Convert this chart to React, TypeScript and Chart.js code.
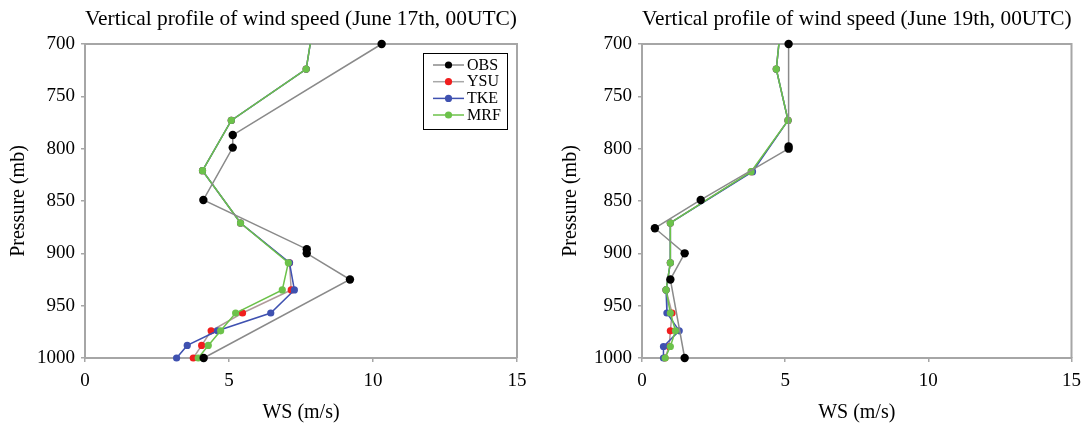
import React, { useEffect, useRef } from "react";
import { Chart, registerables } from "chart.js";

Chart.register(...registerables);

// ---------- data ----------
const title17 = "Vertical profile of wind speed (June 17th, 00UTC)";
const title19 = "Vertical profile of wind speed (June 19th, 00UTC)";
const xTitle = "WS (m/s)";
const yTitle = "Pressure (mb)";
const seriesNames = ["OBS", "YSU", "TKE", "MRF"];

// June 17th
const obs17P = [700, 787, 799, 849, 896, 900, 925, 1000];
const obs17WS = [10.3, 5.13, 5.13, 4.11, 7.7, 7.7, 9.2, 4.12];
const model17P = [700, 724, 773, 821, 871, 909, 935, 957, 974, 988, 1000];
const ysu17WS = [7.82, 7.68, 5.08, 4.08, 5.4, 7.1, 7.16, 5.47, 4.38, 4.05, 3.76];
const tke17WS = [7.82, 7.68, 5.08, 4.08, 5.4, 7.1, 7.27, 6.45, 4.6, 3.55, 3.18];
const mrf17WS = [7.82, 7.68, 5.08, 4.08, 5.4, 7.06, 6.85, 5.23, 4.71, 4.28, 3.93];

// June 19th
const obs19P = [700, 798, 800, 849, 876, 900, 925, 1000];
const obs19WS = [5.12, 5.12, 5.12, 2.05, 0.45, 1.49, 0.99, 1.49];
const model19P = [700, 724, 773, 822, 871, 909, 935, 957, 974, 989, 1000];
const ysu19WS = [4.78, 4.69, 5.1, 3.83, 0.99, 0.99, 0.84, 1.05, 0.99, 0.95, 0.8];
const tke19WS = [4.78, 4.69, 5.1, 3.86, 0.99, 0.99, 0.84, 0.87, 1.3, 0.75, 0.75];
const mrf19WS = [4.78, 4.69, 5.1, 3.81, 0.99, 0.99, 0.84, 0.99, 1.17, 0.99, 0.81];

const xTicks = [0, 5, 10, 15];
const yTicks = [700, 750, 800, 850, 900, 950, 1000];

// ---------- styles ----------
const FONT = "'Liberation Serif', 'Times New Roman', serif";
const AXIS = "#a6a6a6";
const COLORS = {
  OBS: { line: "#8a8a8a", point: "#000000" },
  YSU: { line: "#b09a9a", point: "#f01e1e" },
  TKE: { line: "#3f51b0", point: "#3f51b0" },
  MRF: { line: "#6cc24a", point: "#6cc24a" },
};

function pts(xs: number[], ys: number[]) {
  return xs.map((x, i) => ({ x, y: ys[i] }));
}

function ds(name: string, xs: number[], ys: number[], isModel: boolean) {
  const c = (COLORS as any)[name];
  const r = isModel ? 3.6 : 4.2;
  return {
    label: name,
    data: pts(xs, ys),
    showLine: true,
    borderColor: c.line,
    borderWidth: 1.5,
    pointRadius: xs.map((_, i) => (isModel && i === 0 ? 0 : r)),
    pointBackgroundColor: c.point,
    pointBorderColor: c.point,
    pointBorderWidth: 0,
    clip: false,
  };
}

const framePlugin = {
  id: "frame",
  beforeDatasetsDraw(chart: any) {
    const { ctx, chartArea: a } = chart;
    ctx.save();
    ctx.strokeStyle = AXIS;
    ctx.lineWidth = 2;
    ctx.beginPath();
    ctx.moveTo(a.left, a.top);
    ctx.lineTo(a.right, a.top);
    ctx.lineTo(a.right, a.bottom);
    ctx.stroke();
    ctx.restore();
  },
};

const legendPlugin = {
  id: "boxLegend",
  afterDatasetsDraw(chart: any, _args: any, opts: any) {
    if (!opts || !opts.show) return;
    const { ctx } = chart;
    const bx = 423, by = 53, bw = 84, bh = 76;
    ctx.save();
    ctx.fillStyle = "#ffffff";
    ctx.fillRect(bx, by, bw, bh);
    ctx.strokeStyle = "#000000";
    ctx.lineWidth = 1;
    ctx.strokeRect(bx + 0.5, by + 0.5, bw, bh);
    const rows = [65, 81.7, 98.4, 115];
    const legendLine: Record<string, string> = {
      OBS: "#8a8a8a",
      YSU: "#a8a8a8",
      TKE: "#3f51b0",
      MRF: "#6cc24a",
    };
    seriesNames.forEach((n, i) => {
      const y = rows[i];
      ctx.strokeStyle = legendLine[n];
      ctx.lineWidth = 1.5;
      ctx.beginPath();
      ctx.moveTo(433, y);
      ctx.lineTo(464, y);
      ctx.stroke();
      ctx.fillStyle = (COLORS as any)[n].point;
      ctx.beginPath();
      ctx.arc(448.5, y, 3.6, 0, Math.PI * 2);
      ctx.fill();
      ctx.fillStyle = "#000";
      ctx.font = `16px ${FONT}`;
      ctx.textAlign = "left";
      ctx.textBaseline = "middle";
      ctx.fillText(n, 467, y + 0.5);
    });
    ctx.restore();
  },
};

function makeConfig(opts: {
  title: string;
  obsWS: number[];
  obsP: number[];
  modelP: number[];
  ysu: number[];
  tke: number[];
  mrf: number[];
  yWidth: number;
  yTitlePad: number;
  padRight: number;
  legend: boolean;
}) {
  const tickFont = { family: FONT, size: 19 };
  const titleFont = { family: FONT, size: 20, lineHeight: 1.2 };
  return {
    type: "scatter" as const,
    data: {
      datasets: [
        ds("OBS", opts.obsWS, opts.obsP, false),
        ds("MRF", opts.mrf, opts.modelP, true),
        ds("TKE", opts.tke, opts.modelP, true),
        ds("YSU", opts.ysu, opts.modelP, true),
      ],
    },
    options: {
      animation: false,
      responsive: false,
      maintainAspectRatio: false,
      layout: { padding: { left: 0, right: opts.padRight, top: 0, bottom: 0 } },
      plugins: {
        legend: { display: false },
        tooltip: { enabled: false },
        title: {
          display: true,
          text: opts.title,
          fullSize: false,
          color: "#000",
          font: { family: FONT, size: 21.5, weight: "normal", lineHeight: 1.2 },
          padding: { top: 6.5, bottom: 11.7 },
        },
        boxLegend: { show: opts.legend },
      },
      scales: {
        x: {
          type: "linear",
          min: 0,
          max: 15,
          afterBuildTicks: (s: any) => {
            s.ticks = xTicks.map((v) => ({ value: v }));
          },
          ticks: { font: tickFont, color: "#000", padding: 8, callback: (v: any) => String(v) },
          grid: { drawOnChartArea: false, tickLength: 4, color: AXIS, lineWidth: 1.5 },
          border: { color: AXIS, width: 2 },
          title: {
            display: true,
            text: xTitle,
            color: "#000",
            font: titleFont,
            padding: { top: 0, bottom: 0 },
          },
          afterFit: (s: any) => {
            s.height = 67;
          },
        },
        y: {
          type: "linear",
          min: 700,
          max: 1000,
          reverse: true,
          afterBuildTicks: (s: any) => {
            s.ticks = yTicks.map((v) => ({ value: v }));
          },
          ticks: { font: tickFont, color: "#000", padding: 6, callback: (v: any) => String(v) },
          grid: { drawOnChartArea: false, tickLength: 4, color: AXIS, lineWidth: 1.5 },
          border: { color: AXIS, width: 2 },
          title: {
            display: true,
            text: yTitle,
            color: "#000",
            font: titleFont,
            padding: { top: opts.yTitlePad, bottom: 0 },
          },
          afterFit: (s: any) => {
            s.width = opts.yWidth;
          },
        },
      },
    },
    plugins: [framePlugin, legendPlugin],
  };
}

function ChartCanvas(props: { config: any; width: number; height: number; left: number }) {
  const ref = useRef<HTMLCanvasElement | null>(null);
  useEffect(() => {
    if (!ref.current) return;
    const chart = new Chart(ref.current, props.config);
    return () => chart.destroy();
  }, []);
  return (
    <canvas
      ref={ref}
      width={props.width}
      height={props.height}
      style={{ position: "absolute", left: props.left, top: 0, width: props.width, height: props.height }}
    />
  );
}

export default function App() {
  const left = makeConfig({
    title: title17,
    obsWS: obs17WS,
    obsP: obs17P,
    modelP: model17P,
    ysu: ysu17WS,
    tke: tke17WS,
    mrf: mrf17WS,
    yWidth: 85,
    yTitlePad: 6.5,
    padRight: 28,
    legend: true,
  });
  const right = makeConfig({
    title: title19,
    obsWS: obs19WS,
    obsP: obs19P,
    modelP: model19P,
    ysu: ysu19WS,
    tke: tke19WS,
    mrf: mrf19WS,
    yWidth: 97,
    yTitlePad: 14,
    padRight: 16,
    legend: false,
  });
  return (
    <div style={{ position: "absolute", left: 0, top: 0, width: 1089, height: 425, background: "#fff" }}>
      <ChartCanvas config={left} width={545} height={425} left={0} />
      <ChartCanvas config={right} width={544} height={425} left={545} />
    </div>
  );
}
